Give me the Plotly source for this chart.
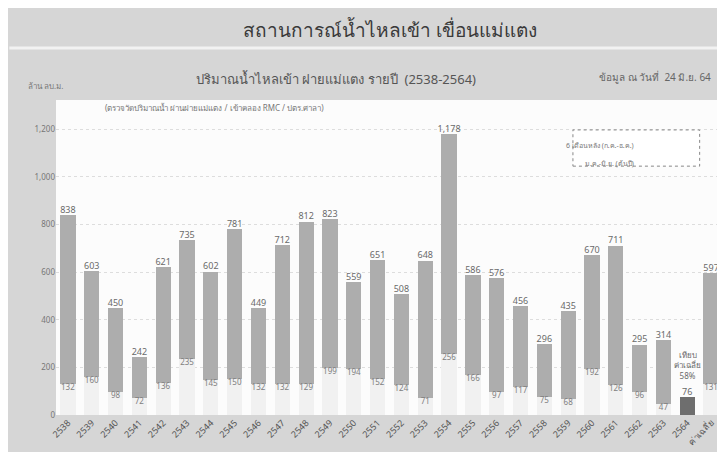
import plotly.graph_objects as go

# ปริมาณน้ำไหลเข้า ฝายแม่แตง รายปี (ล้าน ลบ.ม.)
years = ["2538", "2539", "2540", "2541", "2542", "2543", "2544", "2545", "2546",
         "2547", "2548", "2549", "2550", "2551", "2552", "2553", "2554", "2555",
         "2556", "2557", "2558", "2559", "2560", "2561", "2562", "2563", "2564",
         "ค่าเฉลี่ย"]
totals = [838, 603, 450, 242, 621, 735, 602, 781, 449, 712, 812, 823, 559, 651,
          508, 648, 1178, 586, 576, 456, 296, 435, 670, 711, 295, 314, 76, 597]
first_half = [132, 160, 98, 72, 136, 235, 145, 150, 132, 132, 129, 199, 194, 152,
              124, 71, 256, 166, 97, 117, 75, 68, 192, 126, 96, 47, 76, 131]
total_labels = ["838", "603", "450", "242", "621", "735", "602", "781", "449",
                "712", "812", "823", "559", "651", "508", "648", "1,178", "586",
                "576", "456", "296", "435", "670", "711", "295", "314", "76", "597"]

pos = list(range(len(years)))
i64 = years.index("2564")
second_half = [t - f for t, f in zip(totals, first_half)]
low_colors = ["#f1f1f1"] * len(years)
low_colors[i64] = "#6e6e6e"
low_labels = [str(v) for v in first_half]
low_labels[i64] = ""

fig = go.Figure()
fig.add_trace(go.Bar(x=pos, y=first_half, marker=dict(color=low_colors, line=dict(width=0)),
                     name="ม.ค.-มิ.ย.", hovertext=years))
fig.add_trace(go.Bar(x=pos, y=second_half, marker=dict(color="#adadad", line=dict(width=0)),
                     name="ก.ค.-ธ.ค.", hovertext=years))
# ค่ารวมด้านบนแท่ง
fig.add_trace(go.Scatter(x=pos, y=totals, mode="text", text=total_labels,
                         textposition="top center", cliponaxis=False,
                         textfont=dict(size=9, color="#6a6a6a")))
# ค่าช่วงต้นปี
fig.add_trace(go.Scatter(x=pos, y=first_half, mode="text", text=low_labels,
                         textposition="bottom center", cliponaxis=False,
                         textfont=dict(size=8, color="#808080")))

fig.add_annotation(x=pos[i64], y=totals[i64], yshift=14,
                   text="เทียบ<br>ค่าเฉลี่ย<br>58%", showarrow=False, yanchor="bottom",
                   font=dict(size=8, color="#6a6a6a"))

# หัวเรื่อง
fig.add_annotation(xref="paper", yref="paper", x=0.5, y=1.27, xanchor="center",
                   text="สถานการณ์น้ำไหลเข้า เขื่อนแม่แตง", showarrow=False,
                   font=dict(size=19, color="#3a3a3a"))
fig.add_annotation(xref="paper", yref="paper", x=0.42, y=1.10, xanchor="center",
                   text="ปริมาณน้ำไหลเข้า ฝายแม่แตง รายปี  (2538-2564)", showarrow=False,
                   font=dict(size=13, color="#555555"))
fig.add_annotation(xref="paper", yref="paper", x=0.985, y=1.10, xanchor="right",
                   text="ข้อมูล ณ วันที่  24 มิ.ย. 64", showarrow=False,
                   font=dict(size=10, color="#666666"))
fig.add_annotation(xref="paper", yref="paper", x=-0.045, y=1.07, xanchor="left",
                   text="ล้าน ลบ.ม.", showarrow=False,
                   font=dict(size=8, color="#777777"))
fig.add_annotation(xref="paper", yref="paper", x=0.07, y=1.0, xanchor="left",
                   text="(ตรวจวัดปริมาณน้ำ ผ่านฝายแม่แตง / เข้าคลอง RMC / ปตร.ศาลา)",
                   showarrow=False, font=dict(size=8, color="#777777"))

# กล่องคำอธิบาย
fig.add_shape(type="rect", xref="paper", yref="paper", x0=0.775, x1=0.965, y0=0.79, y1=0.905,
              line=dict(color="#888888", width=1, dash="dot"), fillcolor="white")
fig.add_annotation(xref="paper", yref="paper", x=0.87, y=0.875, text="6 เดือนหลัง (ก.ค.-ธ.ค.)",
                   showarrow=False, font=dict(size=7, color="#777777"))
fig.add_annotation(xref="paper", yref="paper", x=0.87, y=0.82, text="ม.ค.-มิ.ย. (ต้นปี)",
                   showarrow=False, font=dict(size=7, color="#777777"))

# แถบหัวเรื่อง
fig.add_shape(type="line", xref="paper", yref="paper", x0=-0.07, x1=1.015, y0=1.165, y1=1.165,
              line=dict(color="#f2f2f2", width=3))

fig.update_layout(
    width=725, height=452,
    barmode="stack", bargap=0.36,
    showlegend=False,
    paper_bgcolor="#d6d6d6", plot_bgcolor="#fcfcfc",
    margin=dict(l=48, r=10, t=92, b=45),
    font=dict(family="Noto Sans, sans-serif", color="#666666"),
    xaxis=dict(range=[-0.5, len(years) - 0.5], tickvals=pos, ticktext=years,
               tickangle=-45, tickfont=dict(size=9, color="#555555"),
               showgrid=False, ticks="", showline=False, zeroline=False),
    yaxis=dict(range=[0, 1322], tickvals=[0, 200, 400, 600, 800, 1000, 1200],
               ticktext=["0", "200", "400", "600", "800", "1,000", "1,200"],
               tickfont=dict(size=8, color="#777777"),
               showgrid=True, gridcolor="#dddddd", griddash="dot", gridwidth=1,
               zeroline=False),
)

fig.write_html("out.html")
